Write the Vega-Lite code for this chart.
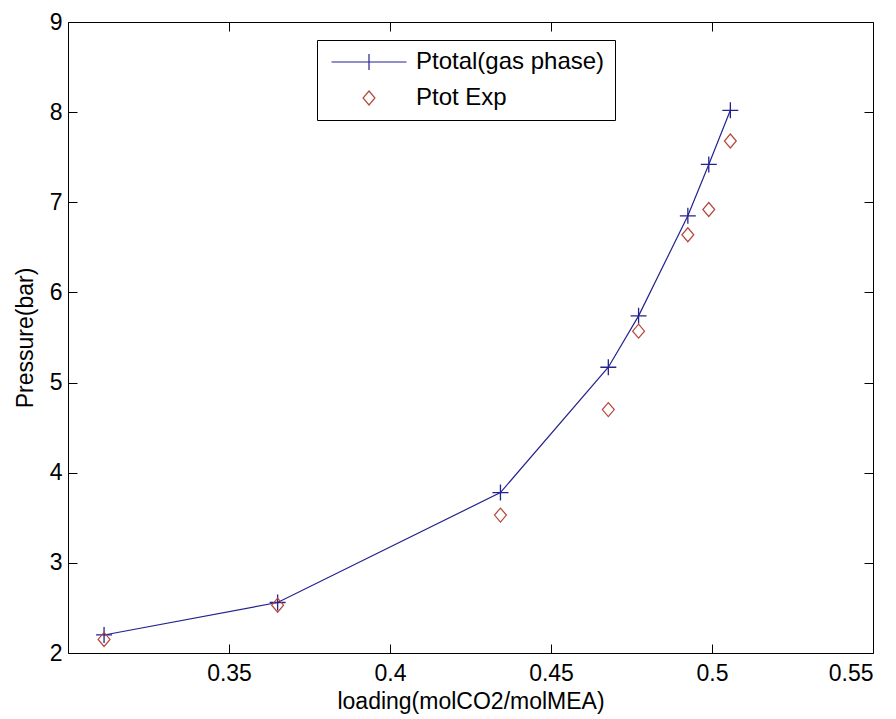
{
  "$schema": "https://vega.github.io/schema/vega-lite/v6.json",
  "width": 805,
  "height": 631,
  "autosize": {"type": "none"},
  "padding": {"left": 68, "top": 22, "right": 23, "bottom": 66},
  "background": "white",
  "config": {
    "view": {"stroke": "black", "strokeWidth": 1},
    "font": "Liberation Sans",
    "axis": {
      "grid": false,
      "domain": false,
      "tickColor": "black",
      "tickSize": -9,
      "tickWidth": 1,
      "labelFont": "Liberation Sans",
      "labelFontSize": 23,
      "labelColor": "black",
      "titleFont": "Liberation Sans",
      "titleFontSize": 23,
      "titleFontWeight": "normal",
      "titleColor": "black"
    },
    "legend": {
      "orient": "none",
      "legendX": 249,
      "legendY": 18,
      "strokeColor": "black",
      "fillColor": "white",
      "padding": 10,
      "labelFont": "Liberation Sans",
      "labelFontSize": 24,
      "labelColor": "black",
      "labelLimit": 0,
      "symbolSize": 196,
      "symbolOffset": 30,
      "labelOffset": 35,
      "symbolStrokeWidth": 1.2,
      "symbolOpacity": 1,
      "rowPadding": 12
    }
  },
  "data": {
    "values": [
      {"loading": 0.3112, "pressure": 2.20, "series": "Ptotal(gas phase)"},
      {"loading": 0.3651, "pressure": 2.56, "series": "Ptotal(gas phase)"},
      {"loading": 0.4343, "pressure": 3.78, "series": "Ptotal(gas phase)"},
      {"loading": 0.4678, "pressure": 5.17, "series": "Ptotal(gas phase)"},
      {"loading": 0.4772, "pressure": 5.74, "series": "Ptotal(gas phase)"},
      {"loading": 0.4925, "pressure": 6.85, "series": "Ptotal(gas phase)"},
      {"loading": 0.4990, "pressure": 7.42, "series": "Ptotal(gas phase)"},
      {"loading": 0.5057, "pressure": 8.02, "series": "Ptotal(gas phase)"},
      {"loading": 0.3112, "pressure": 2.15, "series": "Ptot Exp"},
      {"loading": 0.3651, "pressure": 2.53, "series": "Ptot Exp"},
      {"loading": 0.4343, "pressure": 3.53, "series": "Ptot Exp"},
      {"loading": 0.4678, "pressure": 4.70, "series": "Ptot Exp"},
      {"loading": 0.4772, "pressure": 5.57, "series": "Ptot Exp"},
      {"loading": 0.4925, "pressure": 6.64, "series": "Ptot Exp"},
      {"loading": 0.4990, "pressure": 6.92, "series": "Ptot Exp"},
      {"loading": 0.5057, "pressure": 7.68, "series": "Ptot Exp"}
    ]
  },
  "layer": [
    {
      "transform": [{"filter": "datum.series === 'Ptotal(gas phase)'"}],
      "mark": {"type": "line", "color": "#232390", "strokeWidth": 1.2},
      "encoding": {
        "x": {
          "field": "loading", "type": "quantitative",
          "scale": {"domain": [0.3, 0.55], "nice": false, "zero": false},
          "axis": {"orient": "bottom", "values": [0.35, 0.4, 0.45, 0.5, 0.55], "format": ".2~f", "labelPadding": 18, "title": "loading(molCO2/molMEA)", "titlePadding": 5}
        },
        "y": {
          "field": "pressure", "type": "quantitative",
          "scale": {"domain": [2, 9], "nice": false, "zero": false},
          "axis": {"orient": "left", "values": [2, 3, 4, 5, 6, 7, 8, 9], "format": "d", "labelPadding": 15, "title": "Pressure(bar)", "titlePadding": 12}
        }
      }
    },
    {
      "transform": [{"filter": "datum.series === 'Ptotal(gas phase)'"}],
      "mark": {"type": "point", "shape": "M-1,0L1,0M0,-1L0,1", "size": 256, "color": "#232390", "strokeWidth": 1.3, "filled": false, "opacity": 1},
      "encoding": {
        "x": {"field": "loading", "type": "quantitative", "axis": {"orient": "top", "values": [0.35, 0.4, 0.45, 0.5, 0.55], "labels": false, "title": null}},
        "y": {"field": "pressure", "type": "quantitative", "axis": {"orient": "right", "values": [2, 3, 4, 5, 6, 7, 8, 9], "labels": false, "title": null}}
      }
    },
    {
      "transform": [{"filter": "datum.series === 'Ptot Exp'"}],
      "mark": {"type": "point", "filled": false, "opacity": 1, "strokeWidth": 1.2, "size": 196},
      "encoding": {
        "x": {"field": "loading", "type": "quantitative", "axis": null},
        "y": {"field": "pressure", "type": "quantitative", "axis": null},
        "color": {
          "field": "series", "type": "nominal",
          "scale": {"domain": ["Ptotal(gas phase)", "Ptot Exp"], "range": ["#232390", "#b5473b"]},
          "legend": {"title": null, "symbolSize": 196}
        },
        "shape": {
          "field": "series", "type": "nominal",
          "scale": {"domain": ["Ptotal(gas phase)", "Ptot Exp"], "range": ["M-5.357,0L5.357,0M0,-1.143L0,1.143", "M0,-1L0.85,0L0,1L-0.85,0Z"]},
          "legend": {"title": null, "symbolSize": 196}
        }
      }
    }
  ],
  "resolve": {"axis": {"x": "independent", "y": "independent"}}
}
